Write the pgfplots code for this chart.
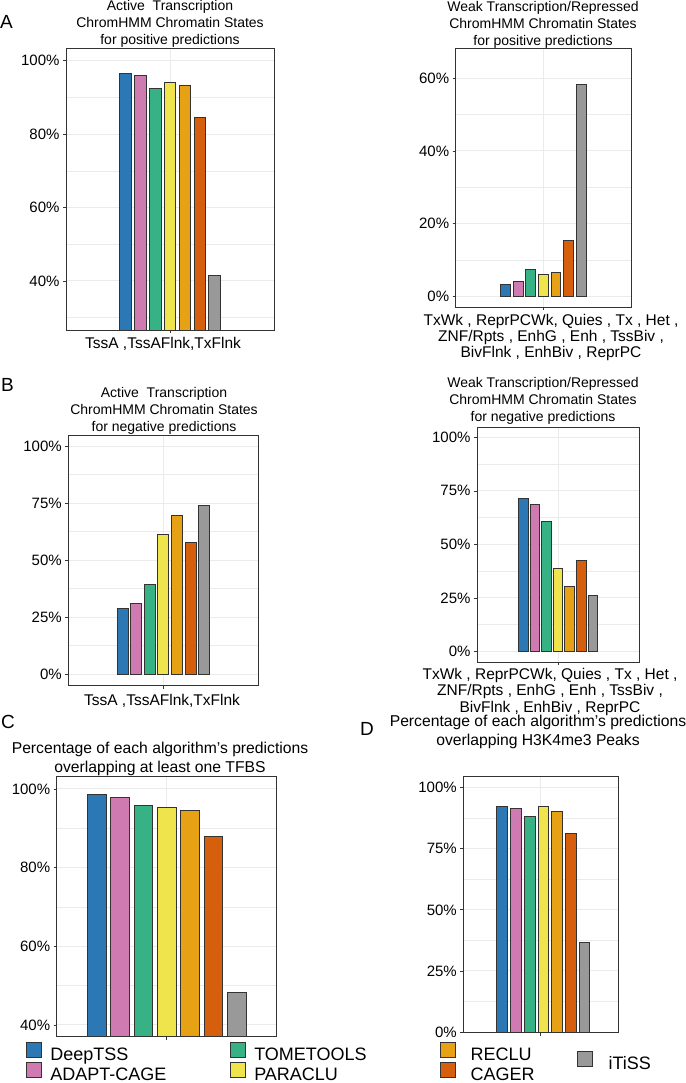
\documentclass[border=0pt]{standalone}
\usepackage{pgfplots}
\pgfplotsset{compat=1.18}
\usepackage{fontspec}
\setmainfont{Liberation Sans}

\definecolor{cDeep}{HTML}{2B78B5}
\definecolor{cAdapt}{HTML}{CF7AB0}
\definecolor{cTome}{HTML}{37B284}
\definecolor{cPara}{HTML}{F0E44C}
\definecolor{cReclu}{HTML}{E6A115}
\definecolor{cCager}{HTML}{D65F0E}
\definecolor{cItiss}{HTML}{999999}
\definecolor{gridc}{HTML}{EBEBEB}
\definecolor{edge}{HTML}{333333}

\newcommand{\tfont}{\fontsize{14}{17}\selectfont}
\newcommand{\tkfont}{\fontsize{15}{16}\selectfont}
\newcommand{\catfont}{\fontsize{15.5}{16}\selectfont}
\newcommand{\bigfont}{\fontsize{15.7}{18.8}\selectfont}
\newcommand{\legfont}{\fontsize{18}{20}\selectfont}
\newcommand{\letfont}{\fontsize{19}{21}\selectfont}

\pgfplotsset{
 panel/.style={
   scale only axis, anchor=north west,
   xmin=0.4, xmax=1.6, xtick={1}, xticklabels={},
   axis line style={draw=edge, line width=0.9pt},
   tick style={draw=edge, line width=0.7pt},
   tick align=outside, tick pos=left, major tick length=3pt, minor tick length=0pt,
   xmajorgrids, ymajorgrids, yminorgrids,
   major grid style={draw=gridc, line width=0.9pt},
   minor grid style={draw=gridc, line width=0.5pt},
   yticklabel={\pgfmathprintnumber{\tick}\%},
   /pgf/number format/assume math mode=true,
   ticklabel style={font=\tkfont, text=black},
 },
 mybar/.style={ybar, bar shift=0pt, fill=#1, draw=edge, line width=0.8pt},
 legpage/.style={hide axis, scale only axis, width=685pt, height=1083pt,
   at={(0,0)}, anchor=south west, xmin=0, xmax=1, ymin=0, ymax=1,
   legend cell align=left,
   legend image code/.code={\draw[##1] (0pt,-1.05pt) rectangle (15pt,13.95pt);},
 },
 legsty/.style 2 args={legend style={at={#1}, anchor=north west, draw=none, fill=none,
   inner sep=0pt, row sep=-2.5pt, font=\legfont,
   nodes={inner sep=0pt, text height=12pt, text depth=4pt},
   /tikz/every odd column/.append style={column sep=#2}}},
}

\begin{document}
\begin{tikzpicture}
\path[use as bounding box, fill=white] (0pt,0pt) rectangle (685pt,1083pt);

% ---------------- Panel A left
\begin{axis}[panel, at={(66pt,1035pt)}, width=208pt, height=282pt,
  ymin=26.6, ymax=103.5, ytick={40,60,80,100}, minor ytick={30,50,70,90}, bar width=0.068]
\addplot[mybar=cDeep]  coordinates {(0.742,96.6)};
\addplot[mybar=cAdapt] coordinates {(0.828,95.9)};
\addplot[mybar=cTome]  coordinates {(0.914,92.6)};
\addplot[mybar=cPara]  coordinates {(1.000,94.1)};
\addplot[mybar=cReclu] coordinates {(1.086,93.4)};
\addplot[mybar=cCager] coordinates {(1.172,84.6)};
\addplot[mybar=cItiss] coordinates {(1.258,41.5)};
\end{axis}

% ---------------- Panel A right
\begin{axis}[panel, at={(455.7pt,1034.7pt)}, width=175.3pt, height=259pt,
  ymin=-3.0, ymax=68.2, ytick={0,20,40,60}, minor ytick={10,30,50}, bar width=0.068]
\addplot[mybar=cDeep]  coordinates {(0.742,3.4)};
\addplot[mybar=cAdapt] coordinates {(0.828,4.0)};
\addplot[mybar=cTome]  coordinates {(0.914,7.4)};
\addplot[mybar=cPara]  coordinates {(1.000,6.0)};
\addplot[mybar=cReclu] coordinates {(1.086,6.6)};
\addplot[mybar=cCager] coordinates {(1.172,15.5)};
\addplot[mybar=cItiss] coordinates {(1.258,58.2)};
\end{axis}

% ---------------- Panel B left
\begin{axis}[panel, at={(68.3pt,647.3pt)}, width=190pt, height=250pt,
  ymin=-5.0, ymax=104.5, ytick={0,25,50,75,100}, minor ytick={12.5,37.5,62.5,87.5}, bar width=0.07]
\addplot[mybar=cDeep]  coordinates {(0.742,28.8)};
\addplot[mybar=cAdapt] coordinates {(0.828,31.1)};
\addplot[mybar=cTome]  coordinates {(0.914,39.3)};
\addplot[mybar=cPara]  coordinates {(1.000,61.2)};
\addplot[mybar=cReclu] coordinates {(1.086,69.7)};
\addplot[mybar=cCager] coordinates {(1.172,57.6)};
\addplot[mybar=cItiss] coordinates {(1.258,73.9)};
\end{axis}

% ---------------- Panel B right
\begin{axis}[panel, at={(477pt,655.7pt)}, width=162pt, height=235pt,
  ymin=-5.1, ymax=104.7, ytick={0,25,50,75,100}, minor ytick={12.5,37.5,62.5,87.5}, bar width=0.07]
\addplot[mybar=cDeep]  coordinates {(0.742,71.5)};
\addplot[mybar=cAdapt] coordinates {(0.828,68.7)};
\addplot[mybar=cTome]  coordinates {(0.914,60.6)};
\addplot[mybar=cPara]  coordinates {(1.000,38.8)};
\addplot[mybar=cReclu] coordinates {(1.086,30.4)};
\addplot[mybar=cCager] coordinates {(1.172,42.4)};
\addplot[mybar=cItiss] coordinates {(1.258,26.2)};
\end{axis}

% ---------------- Panel C
\begin{axis}[panel, at={(56.7pt,306.3pt)}, width=220pt, height=260pt,
  ymin=37.0, ymax=103.1, ytick={40,60,80,100}, minor ytick={50,70,90}, bar width=0.102]
\addplot[mybar=cDeep]  coordinates {(0.619,98.5)};
\addplot[mybar=cAdapt] coordinates {(0.746,97.9)};
\addplot[mybar=cTome]  coordinates {(0.873,95.7)};
\addplot[mybar=cPara]  coordinates {(1.000,95.4)};
\addplot[mybar=cReclu] coordinates {(1.127,94.5)};
\addplot[mybar=cCager] coordinates {(1.254,87.9)};
\addplot[mybar=cItiss] coordinates {(1.381,48.2)};
\end{axis}

% ---------------- Panel D
\begin{axis}[panel, at={(463.3pt,307pt)}, width=155pt, height=256.7pt,
  ymin=-0.3, ymax=104.8, ytick={0,25,50,75,100}, minor ytick={12.5,37.5,62.5,87.5}, bar width=0.083]
\addplot[mybar=cDeep]  coordinates {(0.701,92.3)};
\addplot[mybar=cAdapt] coordinates {(0.807,91.4)};
\addplot[mybar=cTome]  coordinates {(0.913,88.3)};
\addplot[mybar=cPara]  coordinates {(1.019,92.3)};
\addplot[mybar=cReclu] coordinates {(1.125,90.1)};
\addplot[mybar=cCager] coordinates {(1.231,81.4)};
\addplot[mybar=cItiss] coordinates {(1.337,36.5)};
\end{axis}

% ---------------- Legend
\begin{axis}[legpage, legsty={(0.03796,0.03785)}{8.3pt}]
\addlegendimage{fill=cDeep, draw=edge, line width=0.8pt}\addlegendentry{DeepTSS}
\addlegendimage{fill=cAdapt, draw=edge, line width=0.8pt}\addlegendentry{ADAPT-CAGE}
\end{axis}
\begin{axis}[legpage, legsty={(0.33577,0.03785)}{8.3pt}]
\addlegendimage{fill=cTome, draw=edge, line width=0.8pt}\addlegendentry{TOMETOOLS}
\addlegendimage{fill=cPara, draw=edge, line width=0.8pt}\addlegendentry{PARACLU}
\end{axis}
\begin{axis}[legpage, legsty={(0.64161,0.03785)}{15pt}]
\addlegendimage{fill=cReclu, draw=edge, line width=0.8pt}\addlegendentry{RECLU}
\addlegendimage{fill=cCager, draw=edge, line width=0.8pt}\addlegendentry{CAGER}
\end{axis}
\begin{axis}[legpage, legsty={(0.84161,0.02982)}{16pt}]
\addlegendimage{fill=cItiss, draw=edge, line width=0.8pt}\addlegendentry{iTiSS}
\end{axis}

% ---------------- Titles, category labels, panel letters
\node[align=center, font=\tfont] at (170pt,1059.2pt) {Active\ \ Transcription\\ChromHMM Chromatin States\\for positive predictions};
\node[align=center, font=\tfont] at (543pt,1058.5pt) {Weak Transcription/Repressed\\ChromHMM Chromatin States\\for positive predictions};
\node[align=center, font=\tfont] at (164pt,672pt) {Active\ \ Transcription\\ChromHMM Chromatin States\\for negative predictions};
\node[align=center, font=\tfont] at (543pt,682.3pt) {Weak Transcription/Repressed\\ChromHMM Chromatin States\\for negative predictions};
\node[align=center, font=\bigfont] at (160pt,323.8pt) {Percentage of each algorithm's predictions\\overlapping at least one TFBS};
\node[align=center, font=\bigfont] at (538pt,350.8pt) {Percentage of each algorithm's predictions\\overlapping H3K4me3 Peaks};

\node[font=\catfont] at (163pt,739.5pt) {TssA ,TssAFlnk,TxFlnk};
\node[font=\catfont] at (162pt,382pt) {TssA ,TssAFlnk,TxFlnk};
\node[align=center, font=\fontsize{15.5}{16}\selectfont] at (551pt,745.3pt) {TxWk , ReprPCWk, Quies , Tx , Het ,\\ZNF/Rpts , EnhG , Enh , TssBiv ,\\BivFlnk , EnhBiv , ReprPC};
\node[align=center, font=\fontsize{15.5}{16.5}\selectfont] at (550pt,391.3pt) {TxWk , ReprPCWk, Quies , Tx , Het ,\\ZNF/Rpts , EnhG , Enh , TssBiv ,\\BivFlnk , EnhBiv , ReprPC};

\node[font=\letfont] at (6.5pt,1061.5pt) {A};
\node[font=\letfont] at (7.5pt,698pt) {B};
\node[font=\letfont] at (8pt,361.5pt) {C};
\node[font=\letfont] at (367pt,354pt) {D};
\end{tikzpicture}
\end{document}
